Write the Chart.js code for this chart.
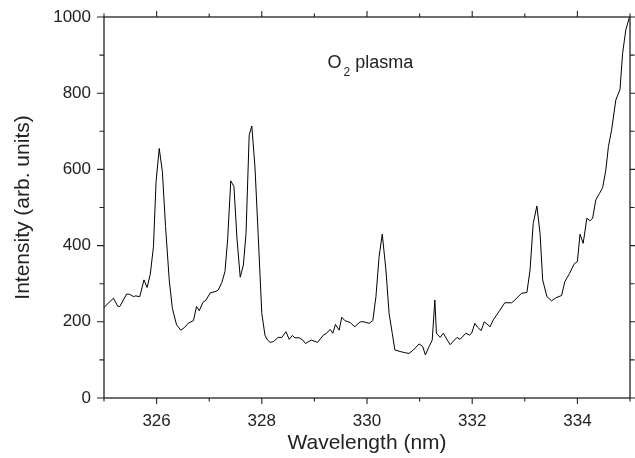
<!DOCTYPE html>
<html>
<head>
<meta charset="utf-8">
<script src="https://cdn.jsdelivr.net/npm/chart.js@4/dist/chart.umd.min.js"></script>
<style>
	body { margin: 0; background: #fff; }
	canvas { display: block; }
</style>
</head>
<body>
<canvas id="chart" width="635" height="458"></canvas>
<script>
// emission spectrum
const wavelengths = [
	325.00, 325.18, 325.26, 325.30, 325.43, 325.49, 325.56, 325.60, 325.68, 325.76,
	325.82, 325.88, 325.94, 325.99, 326.05, 326.11, 326.17, 326.24, 326.30, 326.38,
	326.46, 326.53, 326.60, 326.70, 326.76, 326.81, 326.88, 326.94, 327.02, 327.11,
	327.17, 327.24, 327.30, 327.35, 327.41, 327.47, 327.53, 327.59, 327.65, 327.70,
	327.76, 327.81, 327.87, 327.93, 328.00, 328.06, 328.11, 328.16, 328.22, 328.31,
	328.38, 328.46, 328.52, 328.58, 328.63, 328.71, 328.78, 328.83, 328.94, 329.06,
	329.17, 329.23, 329.30, 329.35, 329.40, 329.47, 329.52, 329.58, 329.68, 329.77,
	329.87, 329.94, 330.04, 330.11, 330.17, 330.23, 330.29, 330.36, 330.42, 330.48,
	330.53, 330.63, 330.72, 330.80, 330.88, 330.99, 331.06, 331.11, 331.18, 331.24,
	331.29, 331.32, 331.39, 331.45, 331.58, 331.71, 331.77, 331.88, 331.95, 331.99,
	332.05, 332.10, 332.17, 332.23, 332.34, 332.40, 332.51, 332.62, 332.75, 332.81,
	332.94, 333.04, 333.10, 333.16, 333.23, 333.29, 333.34, 333.42, 333.51, 333.59,
	333.70, 333.76, 333.85, 333.94, 334.00, 334.05, 334.11, 334.18, 334.24, 334.29,
	334.35, 334.42, 334.48, 334.54, 334.59, 334.65, 334.73, 334.81, 334.86, 334.92,
	334.99, 335.00
];
const intensity = [
	238, 262, 241, 240, 273, 272, 266, 268, 266, 310,
	290, 325, 397, 568, 655, 594, 450, 310, 235, 192,
	178, 185, 196, 203, 240, 229, 251, 257, 276, 279,
	283, 303, 332, 415, 570, 555, 415, 317, 349, 432,
	690, 714, 607, 432, 222, 165, 152, 146, 148, 159,
	159, 174, 154, 164, 158, 158, 152, 143, 152, 146,
	165, 170, 180, 170, 193, 178, 212, 203, 198, 187,
	200, 200, 196, 203, 266, 371, 430, 336, 222, 170,
	126, 122, 119, 117, 126, 142, 135, 113, 135, 152,
	257, 170, 159, 170, 140, 159, 154, 170, 165, 170,
	196, 186, 177, 200, 187, 205, 227, 250, 250, 257,
	275, 277, 336, 458, 504, 432, 310, 266, 255, 263,
	269, 305, 327, 352, 358, 430, 406, 472, 465, 472,
	520, 537, 552, 598, 660, 703, 782, 810, 905, 966,
	1000, 1008
];

const xLabels = [326, 328, 330, 332, 334];
const yLabels = [0, 200, 400, 600, 800, 1000];
const xMinor = [325, 327, 329, 331, 333, 335];
const yMinor = [100, 300, 500, 700, 900];

const FONT = "'Liberation Sans', Arial, Helvetica, sans-serif";
const INK = "#222";

// frame with outward ticks on all four sides
const framePlugin = {
	id: "frame",
	afterDatasetsDraw(chart) {
		const {ctx, chartArea: a, scales: {x, y}} = chart;
		ctx.save();
		ctx.strokeStyle = INK;
		ctx.lineWidth = 1.3;
		ctx.strokeRect(a.left, a.top, a.right - a.left, a.bottom - a.top);
		ctx.lineWidth = 1.1;
		ctx.beginPath();
		const xt = (v, len) => {
			const px = x.getPixelForValue(v);
			ctx.moveTo(px, a.bottom); ctx.lineTo(px, a.bottom + len);
			ctx.moveTo(px, a.top); ctx.lineTo(px, a.top - len);
		};
		const yt = (v, len) => {
			const py = y.getPixelForValue(v);
			ctx.moveTo(a.left, py); ctx.lineTo(a.left - len, py);
			ctx.moveTo(a.right, py); ctx.lineTo(a.right + len, py);
		};
		xLabels.forEach(v => xt(v, 6));
		xMinor.forEach(v => xt(v, 3.5));
		yLabels.forEach(v => yt(v, 7));
		yMinor.forEach(v => yt(v, 4.5));
		ctx.stroke();

		// "O2 plasma" note
		let tx = x.getPixelForValue(329.25);
		const ty = y.getPixelForValue(866);
		ctx.fillStyle = INK;
		ctx.textBaseline = "alphabetic";
		ctx.font = "18px " + FONT;
		ctx.fillText("O", tx, ty);
		tx += ctx.measureText("O").width + 2;
		ctx.font = "12px " + FONT;
		ctx.fillText("2", tx, ty + 8);
		tx += ctx.measureText("2").width + 5;
		ctx.font = "18px " + FONT;
		ctx.fillText("plasma", tx, ty);
		ctx.restore();
	}
};

new Chart(document.getElementById("chart"), {
	type: "line",
	data: {
		datasets: [{
			data: wavelengths.map((w, i) => ({x: w, y: intensity[i]})),
			borderColor: "#000",
			borderWidth: 1,
			pointRadius: 0,
			tension: 0,
			fill: false
		}]
	},
	options: {
		responsive: false,
		animation: false,
		devicePixelRatio: 1,
		layout: {padding: {top: 17, right: 5, left: 0, bottom: 0}},
		plugins: {legend: {display: false}, tooltip: {enabled: false}},
		scales: {
			x: {
				type: "linear",
				min: 325,
				max: 335,
				afterBuildTicks: s => { s.ticks = xLabels.map(v => ({value: v})); },
				afterFit: s => { s.height = 60; s.paddingLeft = 0; s.paddingRight = 0; },
				grid: {display: false, drawTicks: false},
				border: {display: false},
				ticks: {color: INK, font: {family: FONT, size: 17}, padding: 13, maxRotation: 0,
					callback: v => String(v)},
				title: {display: true, text: "Wavelength (nm)", color: INK,
					font: {family: FONT, size: 21, lineHeight: 1.2}, padding: {top: 0, bottom: 2}}
			},
			y: {
				min: 0,
				max: 1000,
				afterBuildTicks: s => { s.ticks = yLabels.map(v => ({value: v})); },
				afterFit: s => { s.width = 104; s.paddingTop = 0; s.paddingBottom = 0; },
				grid: {display: false, drawTicks: false},
				border: {display: false},
				ticks: {color: INK, font: {family: FONT, size: 17}, padding: 13,
					callback: v => String(v)},
				title: {display: true, text: "Intensity (arb. units)", color: INK,
					font: {family: FONT, size: 21, lineHeight: 1.2}, padding: {top: 11, bottom: 0}}
			}
		}
	},
	plugins: [framePlugin]
});
</script>
</body>
</html>
